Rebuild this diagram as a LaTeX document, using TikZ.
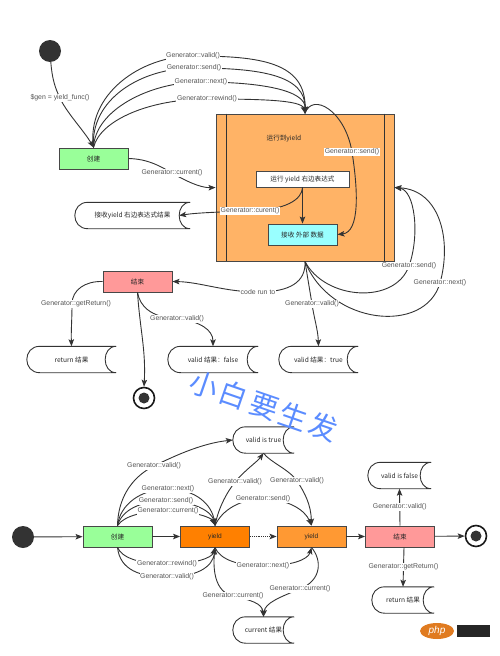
\documentclass[tikz,border=0pt]{standalone}
\usepackage{fontspec}
\setmainfont{Liberation Sans}
\newfontfamily\cjk{Noto Sans CJK SC}
\usetikzlibrary{arrows.meta}
\definecolor{cgreen}{HTML}{99FF99}
\definecolor{corange}{HTML}{FFB366}
\definecolor{ccyan}{HTML}{99FFFF}
\definecolor{cred}{HTML}{FF9999}
\definecolor{cyone}{HTML}{FF8000}
\definecolor{cytwo}{HTML}{FF9933}
\definecolor{cline}{HTML}{333333}
\definecolor{clbl}{HTML}{555555}
\definecolor{cwm}{HTML}{5B8CFF}
\definecolor{cphp}{HTML}{E07B20}
\newcommand\lblf{\fontsize{6.9}{8}\selectfont}
\newcommand\nodef{\fontsize{6.6}{8}\selectfont}
\newcommand\stor[5]{%
  \node[stortx, minimum width=#4] (#1) at (#2,#3) {#5};
  \draw[storln] ([xshift=13pt]#1.north west) -- (#1.north east)
    .. controls ([xshift=-14.7pt]#1.north east) and ([xshift=-14.7pt]#1.south east) .. (#1.south east)
    -- ([xshift=13pt]#1.south west)
    .. controls ([xshift=-4.3pt]#1.south west) and ([xshift=-4.3pt]#1.north west) .. ([xshift=13pt]#1.north west);
}
\tikzset{
  ln/.style={draw=cline, line width=0.9pt},
  arr/.style={ln, -{Stealth[length=7pt,width=5.5pt,inset=1.5pt]}},
  lbl/.style={fill=white, inner sep=0.6pt, font=\lblf, text=clbl},
  boxn/.style={draw=cline!90, line width=0.9pt, minimum width=69, minimum height=21, inner sep=0, font=\nodef, text=black!85},
  stortx/.style={minimum height=26, inner sep=0, font=\nodef\cjk, text=black!85},
  storln/.style={draw=cline, line width=0.9pt},
  startc/.style={circle, fill=cline, minimum size=22, inner sep=0},
  finc/.style={circle, draw=black!90, fill=white, line width=1.6pt, minimum size=21, inner sep=0},
  findot/.style={circle, fill=cline, minimum size=11, inner sep=0},
  wmch/.style={rotate=-19, text=cwm, inner sep=0, font=\cjk\fontsize{28.5}{29}\selectfont},
}
\begin{document}
\begin{tikzpicture}[x=1pt,y=-1pt]
\useasboundingbox (0,0) rectangle (500,656);

% ---------------- top section ----------------
\node[startc] (st1) at (50,51) {};
\node[boxn, fill=cgreen] (cj1) at (93.5,158.5) {\cjk 创建};
\node[draw=cline!90, line width=0.9pt, fill=corange, minimum width=178, minimum height=147, inner sep=0] (box) at (305,187.5) {};
\draw[ln] ([xshift=11pt]box.north west) -- ([xshift=11pt]box.south west)
          ([xshift=-10pt]box.north east) -- ([xshift=-10pt]box.south east);
\node[font=\nodef\cjk, text=black!85] (ytitle) at (284,138) {运行到yield};
\node[boxn, fill=white, minimum width=93, minimum height=16] (inner1) at (302.5,179) {\cjk 运行 yield 右边表达式};
\node[boxn, fill=ccyan] (recv) at (302.5,234.5) {\cjk 接收 外部 数据};
\stor{s1}{132.5}{215.5}{115}{接收yield 右边表达式结果}
\node[boxn, fill=cred] (end1) at (137.5,281.5) {\cjk 结束};
\stor{s2}{71.5}{359.5}{89}{return 结果}
\stor{s3}{213}{359.5}{90}{valid 结果：false}
\stor{s4}{318.5}{359.5}{79}{valid 结果：true}
\node[finc] (fin1) at (144,398) {};
\node[findot] (fin1d) at (fin1) {};

\draw[arr] (st1) .. controls (52,78) and (55,88) .. (60,98) node[lbl]{\$gen = yield\_func()}
  .. controls (66,112) and (85,132) .. (cj1.north);
\draw[arr] (cj1.north) .. controls (86,95) and (140,56) .. (193,56) node[lbl]{Generator::valid()}
  .. controls (260,56) and (306,62) .. (box.north);
\draw[arr] (cj1.north) .. controls (90,100) and (140,68) .. (194,68) node[lbl]{Generator::send()}
  .. controls (260,68) and (306,75) .. (box.north);
\draw[arr] (cj1.north) .. controls (95,110) and (150,82) .. (201,82) node[lbl]{Generator::next()}
  .. controls (260,82) and (306,90) .. (box.north);
\draw[arr] (cj1.north) .. controls (100,120) and (150,99) .. (207,99) node[lbl]{Generator::rewind()}
  .. controls (260,99) and (302,100) .. (box.north);
\draw[arr] (box.north) .. controls (312,92) and (345,110) .. (352,152) node[lbl]{Generator::send()}
  .. controls (358,190) and (360,232) .. (recv.east);
\draw[arr] (cj1.east) .. controls (148,159) and (160,166) .. (172,173) node[lbl]{Generator::current()}
  .. controls (184,180) and (200,188) .. (box.west);
\draw[arr] (inner1.south) .. controls (302,200) and (285,210) .. (250,211) node[lbl]{Generator::curent()}
  .. controls (215,212) and (195,213) .. ([xshift=-11pt]s1.east);
\draw[arr] (inner1) -- (recv);
\draw[arr] (box.south) .. controls (325,300) and (395,305) .. (409,266) node[lbl]{Generator::send()}
  .. controls (420,235) and (415,190) .. (box.east);
\draw[arr] (box.south) .. controls (330,325) and (425,335) .. (440,283) node[lbl]{Generator::next()}
  .. controls (452,240) and (440,190) .. (box.east);
\draw[arr] (box.south) .. controls (306,282) and (290,292) .. (258,292) node[lbl]{code run to}
  .. controls (225,292) and (200,282) .. (end1.east);
\draw[arr] (box.south) .. controls (308,280) and (310,292) .. (312,304) node[lbl]{Generator::valid()}
  .. controls (314,318) and (318,330) .. (s4.north);
\draw[arr] (end1.west) .. controls (85,281) and (72,290) .. (72,304) node[lbl,xshift=4pt]{Generator::getReturn()}
  .. controls (72,320) and (71,330) .. (s2.north);
\draw[arr] (end1.south) .. controls (140,330) and (146,350) .. (fin1.north);
\draw[arr] (end1.south) .. controls (140,306) and (150,317) .. (177,319) node[lbl]{Generator::valid()}
  .. controls (200,321) and (213,330) .. (s3.north);

% ---------------- bottom section ----------------
\node[startc] (st2) at (23,537) {};
\node[boxn, fill=cgreen] (cj2) at (117.5,536.5) {\cjk 创建};
\node[boxn, fill=cyone] (y1) at (215,536.5) {yield};
\node[boxn, fill=cytwo] (y2) at (311.5,536.5) {yield};
\node[boxn, fill=cred] (end2) at (400,536.5) {\cjk 结束};
\node[finc] (fin2) at (476,536) {};
\node[findot] (fin2d) at (fin2) {};
\stor{vf}{399.5}{475.5}{63}{valid is false}
\stor{rr}{403}{600}{62}{return 结果}
\stor{vt}{263.5}{440}{61}{valid is true}
\stor{cur}{263.5}{630}{61}{current 结果}

\draw[arr] (st2) -- (cj2);
\draw[arr] (cj2) -- (y1);
\draw[arr, densely dotted] (y1) -- (y2);
\draw[arr] (y2) -- (end2);
\draw[arr] (end2) -- (fin2);
\draw[arr] (end2.north) -- node[lbl]{Generator::valid()} (vf.south);
\draw[arr] ([xshift=4pt]end2.south) -- node[lbl]{Generator::getReturn()} (rr.north);

\draw[arr] (cj2.north) .. controls (118,500) and (130,478) .. (154,466) node[lbl]{Generator::valid()}
  .. controls (180,453) and (205,443) .. (vt.west);
\draw[arr] (cj2.north) .. controls (120,505) and (140,489) .. (168,489) node[lbl]{Generator::next()}
  .. controls (196,489) and (212,505) .. (y1.north);
\draw[arr] (cj2.north) .. controls (122,510) and (140,501) .. (166,501) node[lbl]{Generator::send()}
  .. controls (195,501) and (212,512) .. (y1.north);
\draw[arr] (cj2.north) .. controls (125,515) and (145,511) .. (168,511) node[lbl]{Generator::current()}
  .. controls (195,511) and (212,518) .. (y1.north);
\draw[arr] (cj2.south) .. controls (122,558) and (140,564) .. (167,564) node[lbl]{Generator::rewind()}
  .. controls (195,564) and (212,558) .. (y1.south);
\draw[arr] (cj2.south) .. controls (120,570) and (140,577) .. (167,577) node[lbl]{Generator::valid()}
  .. controls (195,577) and (213,568) .. (y1.south);
\draw[arr] (y1.north) .. controls (218,510) and (225,495) .. (235,482) node[lbl]{Generator::valid()}
  .. controls (245,470) and (257,462) .. (vt.south);
\draw[arr] (vt.south) .. controls (270,462) and (290,470) .. (297,481) node[lbl]{Generator::valid()}
  .. controls (305,493) and (311,505) .. (y2.north);
\draw[arr] (y1.north) .. controls (222,510) and (240,499) .. (263,499) node[lbl]{Generator::send()}
  .. controls (288,499) and (305,510) .. (y2.north);
\draw[arr] (y1.south) .. controls (220,560) and (240,566) .. (263,566) node[lbl]{Generator::next()}
  .. controls (290,566) and (308,560) .. (y2.south);
\draw[arr] (y1.south) .. controls (212,570) and (215,592) .. (233,596) node[lbl]{Generator::current()}
  .. controls (250,600) and (262,603) .. (cur.north);
\draw[arr] (y2.south) .. controls (322,560) and (322,580) .. (300,589) node[lbl]{Generator::current()}
  .. controls (280,597) and (265,603) .. (cur.north);

% ---------------- watermarks ----------------
\node[wmch] (wm1) at (204,385) {小};
\node[wmch] (wm2) at (234,395) {白};
\node[wmch] (wm3) at (264,406) {要};
\node[wmch] (wm4) at (294,416) {生};
\node[wmch] (wm5) at (324,427) {发};
\fill[cphp] (437,631) ellipse [x radius=17pt, y radius=8pt];
\node[text=white, font=\fontsize{10}{10}\selectfont\itshape] (php) at (437,631) {php};
\node[fill=black!85, minimum width=33, minimum height=12, inner sep=0] (phpb) at (473,631) {};
\end{tikzpicture}
\end{document}
